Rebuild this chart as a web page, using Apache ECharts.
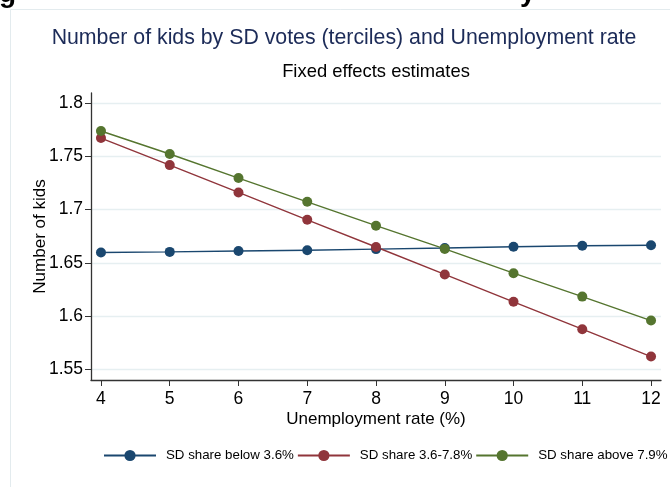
<!DOCTYPE html>
<html>
<head>
<meta charset="utf-8">
<script src="https://cdn.jsdelivr.net/npm/echarts@6/dist/echarts.min.js"></script>
<style>html,body{margin:0;padding:0;background:#fff;}#c{width:670px;height:487px;}</style>
</head>
<body>
<div id="c"></div>
<script>
const unemployment = [4, 5, 6, 7, 8, 9, 10, 11, 12];
const seriesNames = ['SD share below 3.6%', 'SD share 3.6-7.8%', 'SD share above 7.9%'];
const belowValues = [1.6596, 1.6602, 1.6610, 1.6618, 1.6628, 1.6638, 1.6650, 1.6659, 1.6665];
const middleValues = [1.7671, 1.7417, 1.7160, 1.6903, 1.6648, 1.6390, 1.6133, 1.5876, 1.5619];
const aboveValues = [1.7737, 1.7521, 1.7295, 1.7072, 1.6848, 1.6630, 1.6402, 1.6182, 1.5957];
const yTicks = [1.55, 1.6, 1.65, 1.7, 1.75, 1.8];
const xTicks = [4, 5, 6, 7, 8, 9, 10, 11, 12];
const titleText = 'Number of kids by SD votes (terciles) and Unemployment rate';
const subtitleText = 'Fixed effects estimates';
const xName = 'Unemployment rate (%)';
const yName = 'Number of kids';

const colors = ['#1a476f', '#90353b', '#55752f'];
const font = 'Liberation Sans, Arial, Helvetica, sans-serif';
const chart = echarts.init(document.getElementById('c'));

function mk(name, vals, color) {
  return {
    name: name, type: 'line',
    data: unemployment.map((x, i) => [x, vals[i]]),
    symbol: 'circle', symbolSize: 10,
    lineStyle: { color: color, width: 1.4 },
    itemStyle: { color: color },
    emphasis: { disabled: true },
    animation: false
  };
}

chart.setOption({
  animation: false,
  backgroundColor: '#fff',
  graphic: [
    { type: 'rect', shape: { x: 10.5, y: 9.5, width: 700, height: 500 }, style: { fill: '#fff', stroke: '#e3ebee', lineWidth: 1 }, z: -10 },
    { type: 'text', left: -1, top: -20, style: { text: 'g', font: 'bold 28px ' + font, fill: '#000' } },
    { type: 'text', left: 520, top: -21, style: { text: 'y', font: 'bold 28px ' + font, fill: '#000' } },
    { type: 'text', x: 344, y: 38, style: { text: titleText, font: '21.3px ' + font, fill: '#1c2b58', align: 'center', verticalAlign: 'middle' } },
    { type: 'text', x: 376, y: 72, style: { text: subtitleText, font: '18.4px ' + font, fill: '#000', align: 'center', verticalAlign: 'middle' } }
  ],
  grid: { left: 91, right: 9, top: 93, bottom: 107 },
  legend: {
    top: 449, left: 103, padding: 0,
    itemWidth: 52, itemHeight: 14, itemGap: 3,
    textStyle: { fontFamily: font, fontSize: 13.3, color: '#000', padding: [0, 0, 0, 5] },
    data: seriesNames
  },
  xAxis: {
    type: 'value', min: 3.855, max: 12.145,
    name: xName, nameLocation: 'middle', nameGap: 31, nameMoveOverlap: false,
    nameTextStyle: { fontFamily: font, fontSize: 17, color: '#000', verticalAlign: 'top' },
    axisLine: { show: true, lineStyle: { color: '#333', width: 1.3 } },
    axisTick: { show: true, length: 6, lineStyle: { color: '#333' }, customValues: xTicks },
    axisLabel: { fontFamily: font, fontSize: 17.5, color: '#000', margin: 10, customValues: xTicks, formatter: v => String(v) },
    splitLine: { show: false }
  },
  yAxis: {
    type: 'value', min: 1.5399, max: 1.8094,
    name: yName, nameLocation: 'middle', nameGap: 42, nameRotate: 90, nameMoveOverlap: false,
    nameTextStyle: { fontFamily: font, fontSize: 17, color: '#000' },
    axisLine: { show: true, lineStyle: { color: '#333', width: 1.3 } },
    axisTick: { show: true, length: 6, lineStyle: { color: '#333' }, customValues: yTicks },
    axisLabel: { fontFamily: font, fontSize: 17.5, color: '#000', margin: 8, customValues: yTicks, formatter: v => String(+v.toFixed(2)) },
    splitLine: { show: true, lineStyle: { color: '#e6eff1', width: 1.3 } }
  },
  series: [
    mk(seriesNames[0], belowValues, colors[0]),
    mk(seriesNames[1], middleValues, colors[1]),
    mk(seriesNames[2], aboveValues, colors[2])
  ]
});
</script>
</body>
</html>
